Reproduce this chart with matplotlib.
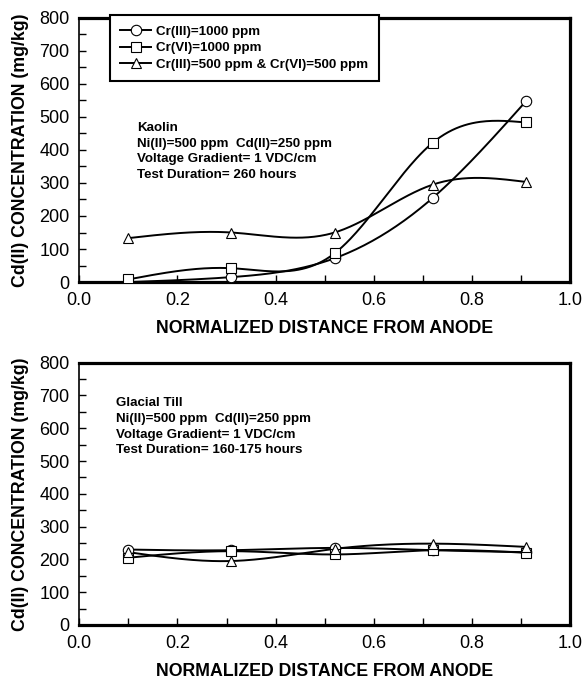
import numpy as np
import matplotlib
matplotlib.use('Agg')
import matplotlib.pyplot as plt
from matplotlib.ticker import MultipleLocator

plt.rcParams['font.family'] = ['Liberation Sans', 'DejaVu Sans']

# данные
x = [0.10, 0.31, 0.52, 0.72, 0.91]
labels = ['Cr(III)=1000 ppm', 'Cr(VI)=1000 ppm', 'Cr(III)=500 ppm & Cr(VI)=500 ppm']
markers = ['o', 's', '^']

kaolin_cr3 = [0, 15, 72, 255, 548]
kaolin_cr6 = [8, 42, 87, 422, 483]
kaolin_mix = [133, 150, 150, 295, 303]

till_cr3 = [230, 228, 235, 228, 222]
till_cr6 = [205, 225, 215, 228, 220]
till_mix = [222, 195, 232, 248, 238]

kaolin_text = 'Kaolin\nNi(II)=500 ppm  Cd(II)=250 ppm\nVoltage Gradient= 1 VDC/cm\nTest Duration= 260 hours'
till_text = 'Glacial Till\nNi(II)=500 ppm  Cd(II)=250 ppm\nVoltage Gradient= 1 VDC/cm\nTest Duration= 160-175 hours'


def spline(xs, ys, n=200):
    # натуральный кубический сплайн только для гладкой линии
    xs = np.asarray(xs, float)
    ys = np.asarray(ys, float)
    k = len(xs)
    h = np.diff(xs)
    A = np.zeros((k, k))
    b = np.zeros(k)
    A[0, 0] = A[-1, -1] = 1
    for i in range(1, k - 1):
        A[i, i - 1] = h[i - 1]
        A[i, i] = 2 * (h[i - 1] + h[i])
        A[i, i + 1] = h[i]
        b[i] = 6 * ((ys[i + 1] - ys[i]) / h[i] - (ys[i] - ys[i - 1]) / h[i - 1])
    M = np.linalg.solve(A, b)
    xx = np.linspace(xs[0], xs[-1], n)
    idx = np.clip(np.searchsorted(xs, xx) - 1, 0, k - 2)
    x0, x1 = xs[idx], xs[idx + 1]
    hh = x1 - x0
    yy = (M[idx] * (x1 - xx) ** 3 / (6 * hh) + M[idx + 1] * (xx - x0) ** 3 / (6 * hh)
          + (ys[idx] / hh - M[idx] * hh / 6) * (x1 - xx)
          + (ys[idx + 1] / hh - M[idx + 1] * hh / 6) * (xx - x0))
    return xx, yy


fig = plt.figure(figsize=(5.82, 6.83), dpi=100)
ax1 = fig.add_axes([0.136, 0.587, 0.844, 0.387])
ax2 = fig.add_axes([0.136, 0.085, 0.844, 0.384])


def draw(ax, series, text, tx, ty, legend):
    for ys, m, lab in zip(series, markers, labels):
        xx, yy = spline(x, ys)
        ax.plot(xx, yy, color='black', lw=1.4, zorder=2)
        ax.plot(x, ys, linestyle='none', marker=m, ms=7.5, mfc='white', mec='black', mew=0.8, zorder=3)
        ax.plot([], [], color='black', lw=1.4, marker=m, ms=7.5, mfc='white', mec='black', mew=0.8, label=lab)
    ax.set_xlim(0, 1)
    ax.set_ylim(0, 800)
    ax.xaxis.set_minor_locator(MultipleLocator(0.1))
    ax.yaxis.set_major_locator(MultipleLocator(100))
    ax.yaxis.set_minor_locator(MultipleLocator(50))
    ax.set_xticks(np.arange(0, 1.01, 0.2))
    ax.set_xticklabels(['0.0', '0.2', '0.4', '0.6', '0.8', '1.0'])
    ax.tick_params(which='both', direction='in', length=5, width=1, labelsize=13, pad=7)
    ax.spines['left'].set_linewidth(1.2)
    for s in ['top', 'right', 'bottom']:
        ax.spines[s].set_linewidth(2.3)
    ax.set_xlabel('NORMALIZED DISTANCE FROM ANODE', fontsize=12.8, fontweight='bold', labelpad=8)
    ax.set_ylabel('Cd(II) CONCENTRATION (mg/kg)', fontsize=12.8, fontweight='bold')
    ax.yaxis.set_label_coords(-0.103, 0.5)
    ax.text(tx, ty, text, fontsize=9.6, fontweight='bold', va='top', ha='left', linespacing=1.42)
    if legend:
        lg = ax.legend(loc='upper left', bbox_to_anchor=(0.062, 1.01), fancybox=False,
                       edgecolor='black', framealpha=1, borderaxespad=0,
                       prop={'size': 9.6, 'weight': 'bold'}, handlelength=2.3,
                       labelspacing=0.3, borderpad=0.8, handletextpad=0.4)
        lg.get_frame().set_linewidth(1.5)


draw(ax1, [kaolin_cr3, kaolin_cr6, kaolin_mix], kaolin_text, 0.118, 485, True)
draw(ax2, [till_cr3, till_cr6, till_mix], till_text, 0.075, 695, False)

fig.savefig('out.png', dpi=100)
